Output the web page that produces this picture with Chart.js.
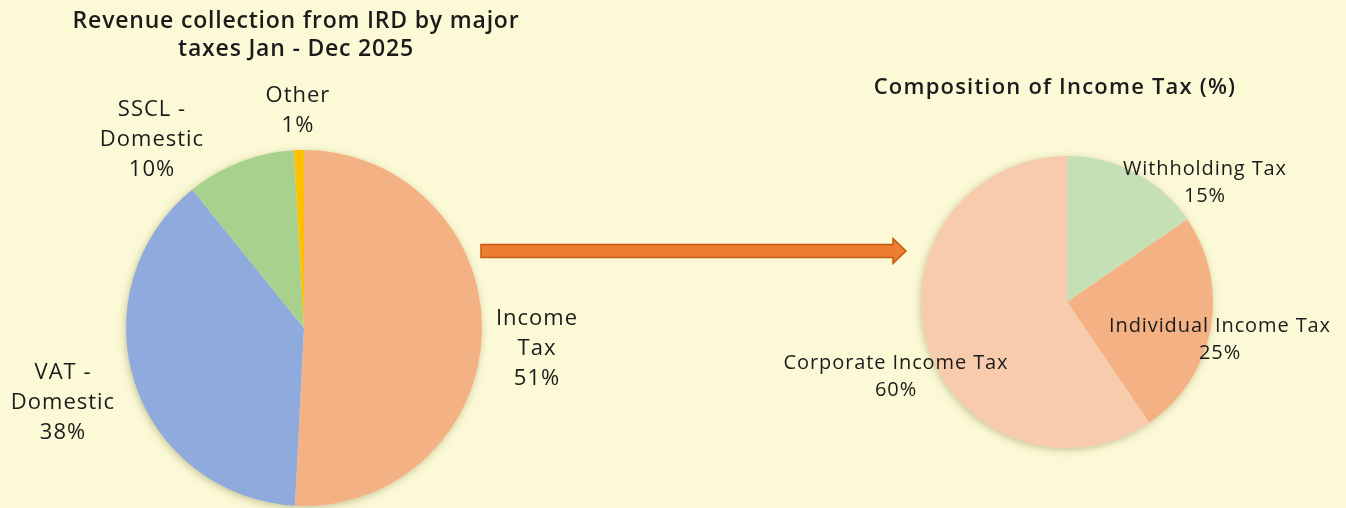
<!DOCTYPE html>
<html>
<head>
<meta charset="utf-8">
<script src="https://cdn.jsdelivr.net/npm/chart.js@4.4.1/dist/chart.umd.min.js"></script>
<style>
  html, body { margin: 0; padding: 0; background: #FCFAD6; }
  #wrap { position: relative; width: 1346px; height: 508px; overflow: hidden; background: #FCFAD6; }
  #leftChart { position: absolute; left: 0; top: 0; }
  #rightChart { position: absolute; left: 700px; top: 0; }
  #arrow { position: absolute; left: 0; top: 0; }
</style>
</head>
<body>
<div id="wrap">
  <svg id="arrow" width="1346" height="508">
    <polygon points="481,244.5 893,244.5 893,238.5 906,251 893,263.5 893,257.5 481,257.5"
      fill="#ED7D31" stroke="#C55A11" stroke-width="1.5" stroke-linejoin="miter"/>
  </svg>
  <canvas id="leftChart" width="620" height="508"></canvas>
  <canvas id="rightChart" width="646" height="508"></canvas>
</div>
<script>
// Revenue by major tax (left pie), shares in %
const revenueLabels = [["Income", "Tax"], ["VAT -", "Domestic"], ["SSCL -", "Domestic"], ["Other"]];
const revenueShares = [50.8, 38.4, 9.9, 0.9];
const revenueColors = ["#F4B183", "#8FAADC", "#A9D18E", "#FFC000"];

// Composition of income tax (right pie), shares in %
const incomeTaxLabels = [["Withholding Tax"], ["Individual Income Tax"], ["Corporate Income Tax"]];
const incomeTaxShares = [15.4, 25.1, 59.5];
const incomeTaxColors = ["#C5E0B4", "#F4B183", "#F8CBAD"];

const FONT = "'Open Sans', 'Lato', sans-serif";
const TEXT = "#1b1b1b";
const BG = "#FCFAD6";

// soft shadow under the whole pie
const pieShadow = {
  id: "pieShadow",
  beforeDatasetsDraw(chart) {
    const arc = chart.getDatasetMeta(0).data[0];
    if (!arc) return;
    const ctx = chart.ctx;
    ctx.save();
    ctx.shadowColor = "rgba(90, 80, 20, 0.35)";
    ctx.shadowBlur = 9;
    ctx.shadowOffsetX = -1;
    ctx.shadowOffsetY = 2;
    ctx.fillStyle = BG;
    ctx.beginPath();
    ctx.arc(arc.x, arc.y, arc.outerRadius - 0.5, 0, Math.PI * 2);
    ctx.fill();
    ctx.restore();
  }
};

// data labels: name lines + percent, placed relative to pie centre
const sliceLabels = {
  id: "sliceLabels",
  afterDatasetsDraw(chart, args, opts) {
    const ctx = chart.ctx;
    const data = chart.data.datasets[0].data;
    const total = data.reduce((a, b) => a + b, 0);
    ctx.save();
    ctx.fillStyle = TEXT;
    ctx.font = `${opts.size}px ${FONT}`;
    ctx.letterSpacing = opts.spacing + "px";
    ctx.textAlign = "center";
    ctx.textBaseline = "middle";
    chart.getDatasetMeta(0).data.forEach((arc, i) => {
      const off = opts.offsets[i];
      const cx = arc.x + off[0] * arc.outerRadius;
      const cy = arc.y + off[1] * arc.outerRadius + 2;
      const lines = chart.data.labels[i].concat(Math.round(data[i] / total * 100) + "%");
      lines.forEach((t, k) => {
        ctx.fillText(t, cx, cy + (k - (lines.length - 1) / 2) * opts.lineHeight);
      });
    });
    ctx.restore();
  }
};

const headTitle = {
  id: "headTitle",
  afterDraw(chart, args, opts) {
    const ctx = chart.ctx;
    ctx.save();
    ctx.fillStyle = TEXT;
    ctx.font = `600 ${opts.size}px ${FONT}`;
    ctx.letterSpacing = opts.spacing + "px";
    ctx.textAlign = "center";
    ctx.textBaseline = "middle";
    opts.lines.forEach((t, k) => ctx.fillText(t, opts.x, opts.y + k * opts.lineHeight));
    ctx.restore();
  }
};

function makePie(id, labels, values, colors, padding, labelOpts, titleOpts) {
  return new Chart(document.getElementById(id), {
    type: "pie",
    data: {
      labels,
      datasets: [{ data: values, backgroundColor: colors, borderWidth: 0 }],
    },
    options: {
      responsive: false,
      animation: false,
      layout: { padding },
      plugins: {
        legend: { display: false },
        tooltip: { enabled: false },
        sliceLabels: labelOpts,
        headTitle: titleOpts,
      },
    },
    plugins: [pieShadow, sliceLabels, headTitle],
  });
}

makePie("leftChart", revenueLabels, revenueShares, revenueColors,
  { left: 126, right: 138, top: 150, bottom: 2 },
  { size: 22, spacing: 1, lineHeight: 30, offsets: [[1.309, 0.107], [-1.354, 0.41], [-0.854, -1.067], [-0.034, -1.23]] },
  { size: 23, spacing: 0.8, lineHeight: 28, x: 296, y: 21, lines: ["Revenue collection from IRD by major", "taxes Jan - Dec 2025"] });

makePie("rightChart", incomeTaxLabels, incomeTaxShares, incomeTaxColors,
  { left: 221, right: 133, top: 156, bottom: 60 },
  { size: 20, spacing: 0.9, lineHeight: 27, offsets: [[0.945, -0.829], [1.048, 0.247], [-1.171, 0.5]] },
  { size: 22, spacing: 1.2, lineHeight: 28, x: 355, y: 88, lines: ["Composition of Income Tax (%)"] });
</script>
</body>
</html>
